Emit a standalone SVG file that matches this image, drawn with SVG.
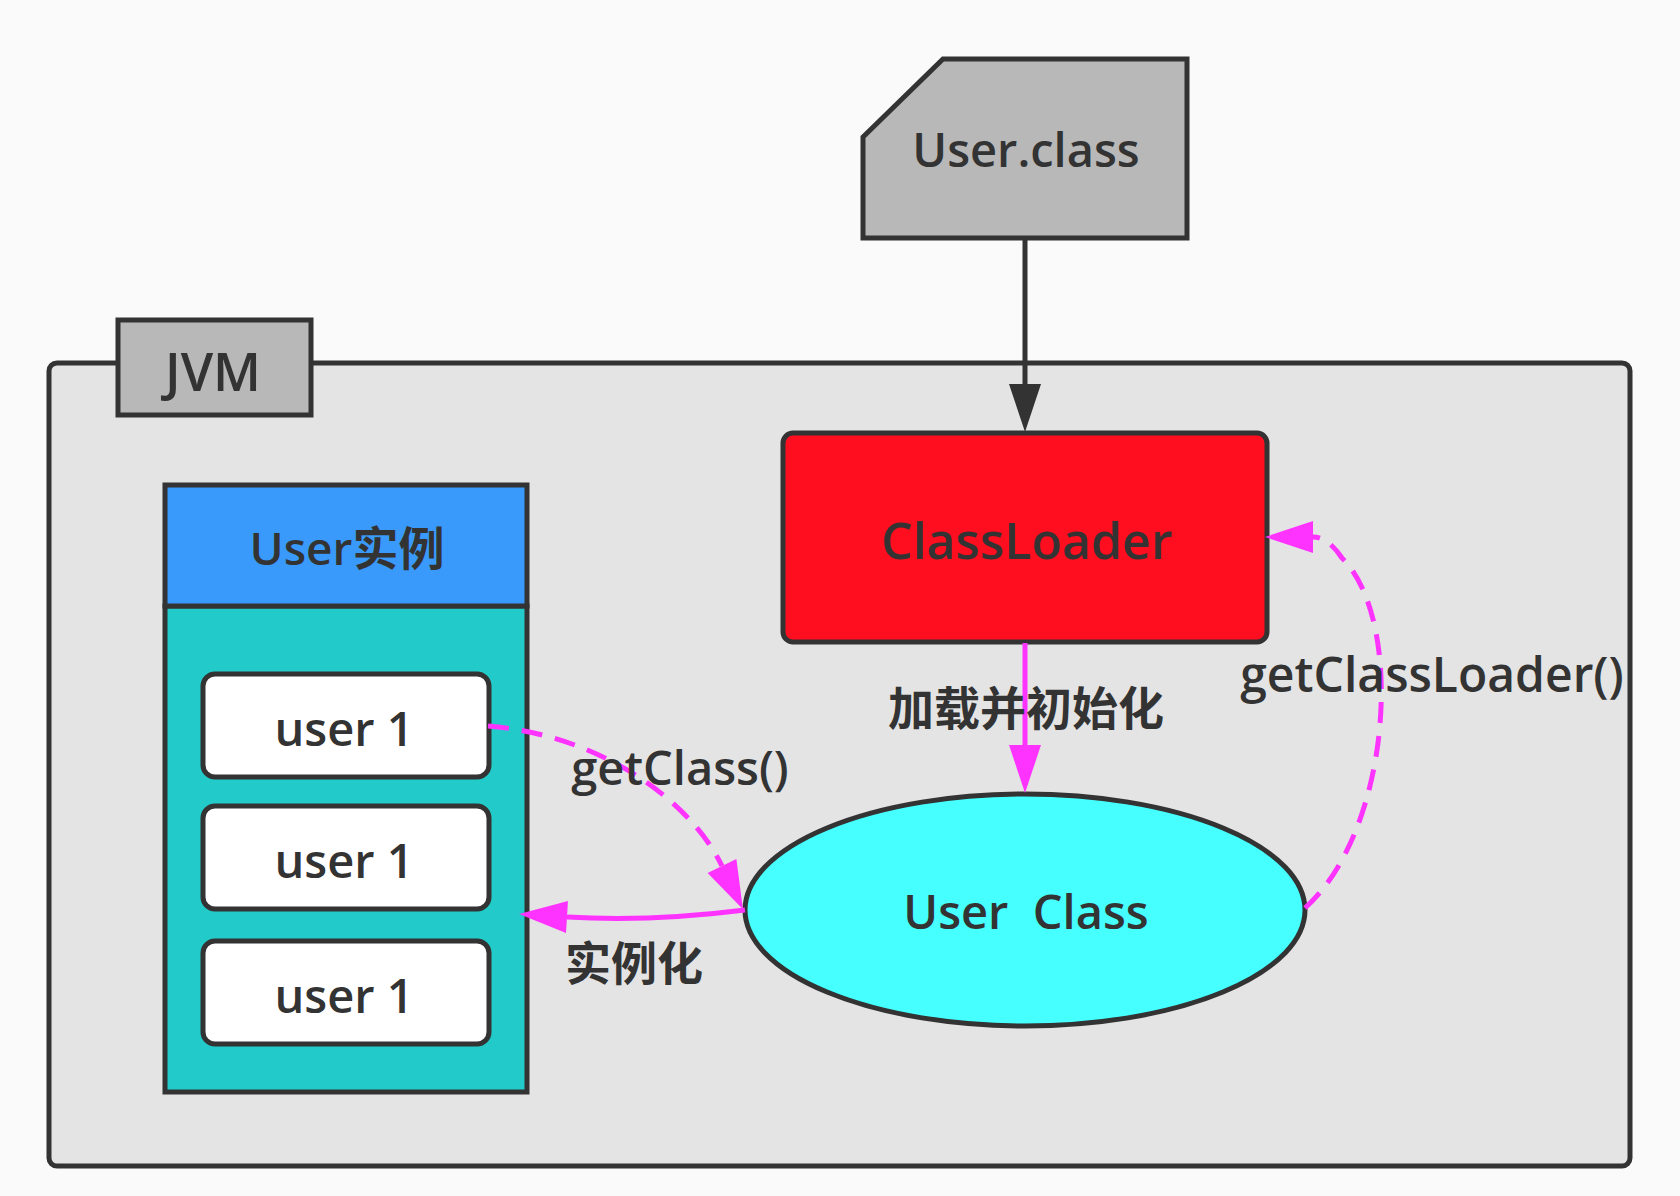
<svg xmlns="http://www.w3.org/2000/svg" width="1680" height="1196" viewBox="0 0 1680 1196">
<style>
.t{font-family:"Open Sans","Noto Sans CJK SC","Noto Sans",sans-serif;font-weight:600;fill:#333;text-anchor:middle}
.box{stroke:#333;stroke-width:5}
.mag{fill:none;stroke:#ff33ff;stroke-width:5}
.dash{stroke-dasharray:21 13}
</style>
<defs>
<marker id="arDark" markerUnits="userSpaceOnUse" viewBox="0 -17 50 34" markerWidth="50" markerHeight="34" refX="0" refY="0" orient="auto" overflow="visible">
<path d="M0,-16 L48,0 L0,16 Z" fill="#333"/>
</marker>
<marker id="arMag" markerUnits="userSpaceOnUse" viewBox="0 -17 50 34" markerWidth="50" markerHeight="34" refX="0" refY="0" orient="auto" overflow="visible">
<path d="M0,-16 L48,0 L0,16 Z" fill="#ff33ff"/>
</marker>
</defs>
<rect x="0" y="0" width="1680" height="1196" fill="#fafafa"/>
<g id="jvm">
<rect class="box" x="49" y="363" width="1581" height="803" rx="8" fill="#e4e4e4"/>
<rect class="box" x="118" y="320" width="193" height="95" fill="#b8b8b8"/>
<text class="t" x="213" y="391" font-size="52">JVM</text>
</g>
<g id="user-class-file">
<path class="box" d="M943,59 H1187 V238 H863 V137 Z" fill="#b8b8b8"/>
<text class="t" x="1026" y="167" font-size="47">User.class</text>
</g>
<g id="classloader">
<rect class="box" x="783" y="433" width="484" height="209" rx="10" fill="#fe0e1f"/>
<text class="t" x="1027" y="559" font-size="50">ClassLoader</text>
</g>
<g id="user-instances">
<rect class="box" x="165" y="606" width="362" height="486" fill="#22cbc9"/>
<rect class="box" x="165" y="485" width="362" height="121" fill="#3a9afc"/>
<text class="t" x="347" y="565" font-size="46">User实例</text>
</g>
<g id="user1-a">
<rect class="box" x="203" y="674" width="286" height="103" rx="12" fill="#fff"/>
<text class="t" x="344" y="746" font-size="47">user 1</text>
</g>
<g id="user1-b">
<rect class="box" x="203" y="806" width="286" height="103" rx="12" fill="#fff"/>
<text class="t" x="344" y="878" font-size="47">user 1</text>
</g>
<g id="user1-c">
<rect class="box" x="203" y="941" width="286" height="103" rx="12" fill="#fff"/>
<text class="t" x="344" y="1013" font-size="47">user 1</text>
</g>
<g id="user-class">
<ellipse class="box" cx="1025" cy="910" rx="280" ry="116" fill="#46ffff"/>
<text class="t" x="1026" y="929" font-size="47" style="white-space:pre">User  Class</text>
</g>
<g id="connectors">
<path d="M1025,240 V384" fill="none" stroke="#333" stroke-width="5" marker-end="url(#arDark)"/>
<path class="mag" d="M1025,643 V745" marker-end="url(#arMag)"/>
<path class="mag dash" d="M488,726 C600,735 690,800 722,866" marker-end="url(#arMag)"/>
<path class="mag" d="M745,910 Q650,922 567,917" marker-end="url(#arMag)"/>
<path class="mag dash" d="M1305,908 C1392,830 1405,620 1342,558 Q1328,537 1313,537" marker-end="url(#arMag)"/>
<text class="t" x="1026" y="725" font-size="46">加载并初始化</text>
<text class="t" x="680" y="785" font-size="47">getClass()</text>
<text class="t" x="634" y="980" font-size="46">实例化</text>
<text class="t" x="1432" y="692" font-size="48">getClassLoader()</text>
</g>
</svg>
